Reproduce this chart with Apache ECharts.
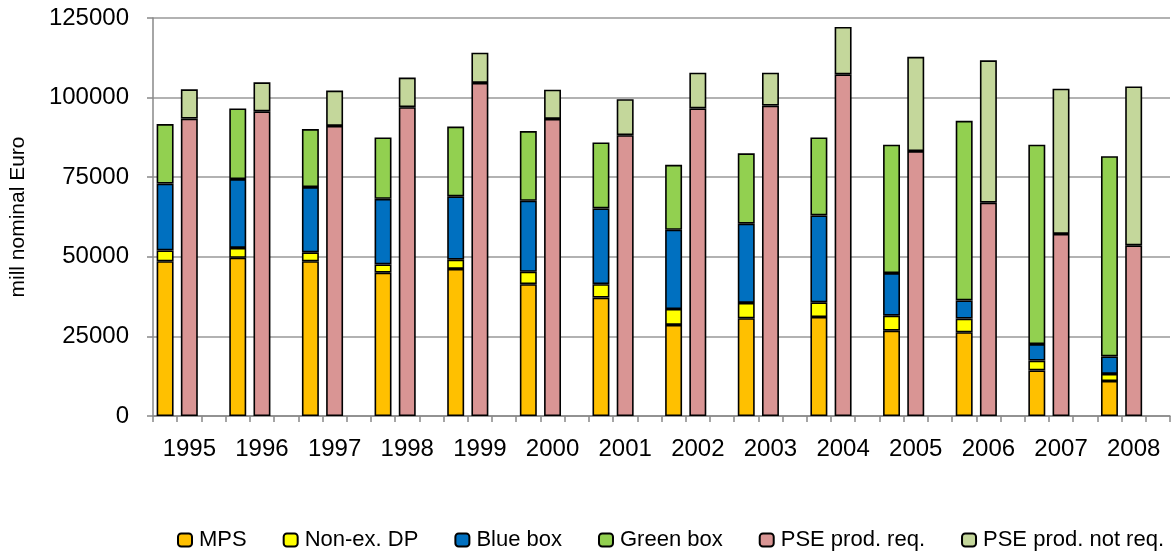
<!DOCTYPE html>
<html>
<head>
<meta charset="utf-8">
<script src="https://cdn.jsdelivr.net/npm/echarts@6/dist/echarts.min.js"></script>
<style>
  html, body { margin: 0; padding: 0; background: #fff; }
  #chart { width: 1176px; height: 554px; }
</style>
</head>
<body>
<div id="chart"></div>
<script>
// Agricultural support by category, mill nominal Euro
const years = ['1995','1996','1997','1998','1999','2000','2001','2002','2003','2004','2005','2006','2007','2008'];

// left bar of each year
const mps       = [48600, 49700, 48600, 45000, 46200, 41400, 37200, 28600, 30700, 31100, 26800, 26300, 14300, 11000];
const nonExDp   = [ 3400,  3100,  2800,  2600,  2900,  3900,  4200,  5000,  4800,  4600,  4700,  4300,  3100,  2200];
const blueBox   = [21000, 21600, 20500, 20600, 19900, 22300, 23800, 24900, 24900, 27300, 13400,  5700,  5200,  5500];
const greenBox  = [18700, 22200, 18200, 19300, 21900, 21900, 20700, 20400, 22100, 24500, 40300, 56400, 62600, 62900];

// right bar of each year
const pseReq    = [93400, 95700, 91100, 97000,104600, 93300, 88200, 96600, 97500,107300, 83200, 67000, 57200, 53600];
const pseNotReq = [ 9200,  9100, 11100,  9300,  9500,  9200, 11300, 11200, 10300, 14900, 29600, 44700, 45600, 49900];

const yTicks = { min: 0, max: 125000, interval: 25000 };

// Each year takes three slots on the category axis: left bar, right bar, gap.
const slots = [];
years.forEach(y => { slots.push(''); slots.push(y); slots.push(''); });

function place(values, offset) {
  const out = [];
  values.forEach(v => {
    for (let k = 0; k < 3; k++) out.push(k === offset ? v : '-');
  });
  return out;
}

const font = "'Liberation Sans', Arial, sans-serif";

const seriesDefs = [
  { name: 'MPS',               values: mps,       offset: 0, color: '#FFC000' },
  { name: 'Non-ex. DP',        values: nonExDp,   offset: 0, color: '#FFFF00' },
  { name: 'Blue box',          values: blueBox,   offset: 0, color: '#0070C0' },
  { name: 'Green box',         values: greenBox,  offset: 0, color: '#92D050' },
  { name: 'PSE prod. req.',    values: pseReq,    offset: 1, color: '#D99594' },
  { name: 'PSE prod. not req.',values: pseNotReq, offset: 1, color: '#C4D79B' }
];

const chart = echarts.init(document.getElementById('chart'), null, { renderer: 'canvas' });

chart.setOption({
  animation: false,
  backgroundColor: '#fff',
  textStyle: { fontFamily: font },
  grid: { left: 153, right: 6, top: 18, bottom: 138, containLabel: false },
  legend: {
    data: seriesDefs.map(s => s.name),
    top: 524,
    left: 172,
    width: 1000,
    itemWidth: 14,
    itemHeight: 13,
    itemGap: 36,
    textStyle: { fontFamily: font, fontSize: 22, color: '#000', padding: [0, 0, 0, 2] }
  },
  xAxis: {
    type: 'category',
    data: slots,
    axisLine: { show: true, lineStyle: { color: '#888', width: 1.5 } },
    axisTick: { show: true, interval: 0, length: 6, lineStyle: { color: '#888', width: 1.5 } },
    axisLabel: { interval: 0, margin: 21, fontSize: 24, color: '#000', fontFamily: font },
    splitLine: { show: false }
  },
  yAxis: {
    type: 'value',
    min: yTicks.min,
    max: yTicks.max,
    interval: yTicks.interval,
    name: 'mill nominal Euro',
    nameLocation: 'middle',
    nameRotate: 90,
    nameGap: 124,
    nameTextStyle: { fontSize: 21, color: '#000', fontFamily: font },
    axisLine: { show: true, lineStyle: { color: '#888', width: 1.5 } },
    axisTick: { show: true, length: 6, lineStyle: { color: '#888', width: 1.5 } },
    axisLabel: { margin: 24, fontSize: 24, color: '#000', fontFamily: font, formatter: v => String(v) },
    splitLine: { show: true, lineStyle: { color: '#999', width: 1.5 } }
  },
  series: seriesDefs.map(s => ({
    name: s.name,
    type: 'bar',
    stack: 'all',
    barWidth: '70%',
    data: place(s.values, s.offset),
    itemStyle: { color: s.color, borderColor: '#000', borderWidth: 1.6 }
  }))
});
</script>
</body>
</html>
